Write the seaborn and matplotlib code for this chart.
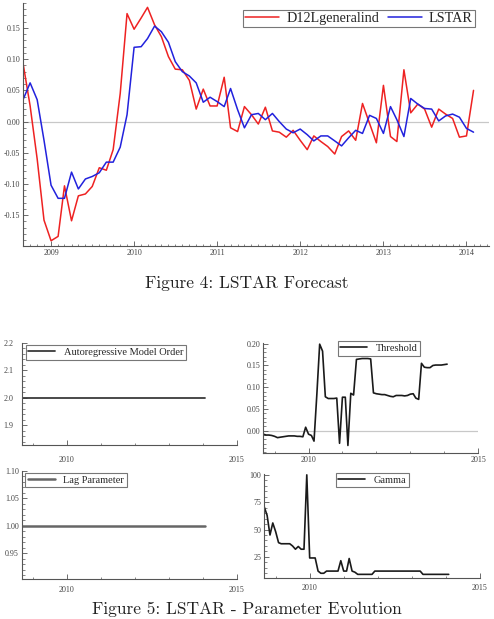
import numpy as np
import pandas as pd
import matplotlib
matplotlib.use("Agg")
import matplotlib.pyplot as plt
import matplotlib.dates as mdates
from matplotlib.ticker import MultipleLocator, FixedLocator
import seaborn as sns

sns.set_theme(style="ticks")
plt.rcParams["font.family"] = ["Liberation Serif", "DejaVu Serif"]
plt.rcParams["axes.unicode_minus"] = False

# ---------------- data ----------------
months = pd.date_range("2008-09-01", periods=66, freq="MS")

actual = [0.091, 0.025, -0.060, -0.158, -0.191, -0.184, -0.103, -0.159, -0.119, -0.116,
          -0.104, -0.074, -0.078, -0.045, 0.045, 0.173, 0.148, 0.166, 0.183, 0.155,
          0.136, 0.104, 0.084, 0.083, 0.066, 0.020, 0.052, 0.025, 0.025, 0.071,
          -0.010, -0.016, 0.024, 0.011, -0.004, 0.023, -0.015, -0.017, -0.025, -0.014,
          -0.030, -0.045, -0.023, -0.032, -0.040, -0.052, -0.024, -0.015, -0.030, 0.029,
          -0.003, -0.034, 0.058, -0.024, -0.032, 0.083, 0.014, 0.028, 0.020, -0.009,
          0.020, 0.012, 0.005, -0.025, -0.023, 0.050]

lstar = [0.036, 0.062, 0.035, -0.030, -0.102, -0.123, -0.123, -0.081, -0.108, -0.092,
         -0.088, -0.082, -0.065, -0.065, -0.041, 0.011, 0.119, 0.120, 0.133, 0.153,
         0.144, 0.127, 0.096, 0.080, 0.073, 0.062, 0.031, 0.039, 0.032, 0.024,
         0.053, 0.019, -0.010, 0.011, 0.013, 0.003, 0.013, 0.000, -0.012, -0.018,
         -0.012, -0.021, -0.031, -0.023, -0.023, -0.031, -0.039, -0.026, -0.014, -0.019,
         0.010, 0.005, -0.019, 0.024, 0.003, -0.024, 0.037, 0.028, 0.021, 0.020,
         0.001, 0.009, 0.012, 0.007, -0.011, -0.017]

ar_order = [2] * 66
lag_param = [1] * 66

threshold = [-0.008, -0.010, -0.010, -0.011, -0.013, -0.016, -0.015, -0.014, -0.013, -0.012,
             -0.012, -0.012, -0.013, -0.013, -0.014, 0.008, -0.008, -0.011, -0.024, 0.085,
             0.199, 0.183, 0.078, 0.074, 0.074, 0.074, 0.075, -0.029, 0.077, 0.077,
             -0.034, 0.086, 0.082, 0.164, 0.165, 0.166, 0.166, 0.166, 0.165, 0.087,
             0.085, 0.084, 0.083, 0.083, 0.081, 0.079, 0.078, 0.081, 0.081, 0.081,
             0.080, 0.081, 0.084, 0.085, 0.075, 0.072, 0.155, 0.146, 0.145, 0.145,
             0.150, 0.151, 0.151, 0.151, 0.152, 0.153]

gamma = [70.5, 63, 45, 56, 48, 38, 37, 37, 37, 37,
         35, 32, 34.5, 32, 32, 100, 24, 24, 24, 12,
         10, 10, 12, 12, 12, 12, 12, 21.5, 12, 12,
         23.5, 12, 11, 9, 9, 9, 9, 9, 9, 12,
         12, 12, 12, 12, 12, 12, 12, 12, 12, 12,
         12, 12, 12, 12, 12, 12, 9, 9, 9, 9,
         9, 9, 9, 9, 9, 9]

top_labels = ["D12Lgeneralind", "LSTAR"]

# ---------------- figure ----------------
W, H = 494, 619
fig = plt.figure(figsize=(W / 100, H / 100), dpi=100)


def box(l, t, r, b):
    return [l / W, 1 - b / H, (r - l) / W, (b - t) / H]


TICK_C = "#444444"
SPINE_C = "#555555"
FS = 5.8


def style(ax, xpad=2, ypad=2):
    sns.despine(ax=ax)
    for s in ("left", "bottom"):
        ax.spines[s].set_color(SPINE_C)
        ax.spines[s].set_linewidth(0.8)
    ax.tick_params(which="major", direction="in", length=3.5, width=0.6,
                   colors=SPINE_C, labelcolor=TICK_C, labelsize=FS)
    ax.tick_params(which="minor", direction="in", length=1.8, width=0.5, colors=SPINE_C)
    ax.tick_params(axis="x", pad=xpad)
    ax.tick_params(axis="y", pad=ypad)
    ax.set_xlabel("")
    ax.set_ylabel("")
    ax.set_facecolor("white")


def leg(ax, x, y, fs):
    lg = ax.legend(loc="upper left", bbox_to_anchor=(x / W, 1 - y / H),
                   bbox_transform=fig.transFigure, fontsize=fs, frameon=True,
                   fancybox=False, framealpha=1, edgecolor="#777777",
                   borderaxespad=0, handlelength=2.6, borderpad=0.25,
                   handletextpad=0.8)
    lg.get_frame().set_linewidth(0.8)
    return lg


# ---- Figure 4: forecast ----
df_top = pd.DataFrame({
    "date": list(months) * 2,
    "value": actual + lstar,
    "series": [top_labels[0]] * 66 + [top_labels[1]] * 66,
})
ax0 = fig.add_axes(box(23.3, 3, 489, 246))
ax0.axhline(0, color="#c8c8c8", lw=0.9, zorder=0)
sns.lineplot(data=df_top, x="date", y="value", hue="series",
             palette=["#ee2222", "#2222dd"], linewidth=1.1, ax=ax0)
ax0.set_xlim(pd.Timestamp("2008-09-01"), pd.Timestamp("2014-04-10"))
ax0.set_ylim(-0.1994, 0.190)
ax0.xaxis.set_major_locator(mdates.YearLocator())
ax0.xaxis.set_major_formatter(mdates.DateFormatter("%Y"))
ax0.xaxis.set_minor_locator(mdates.MonthLocator())
ax0.yaxis.set_major_locator(FixedLocator([-0.15, -0.10, -0.05, 0.0, 0.05, 0.10, 0.15]))
ax0.yaxis.set_major_formatter(matplotlib.ticker.FormatStrFormatter("%.2f"))
ax0.yaxis.set_minor_locator(MultipleLocator(0.01))
style(ax0, xpad=2.5, ypad=2)
lg0 = ax0.legend(loc="upper right", bbox_to_anchor=(475 / W, 1 - 10 / H),
                 bbox_transform=fig.transFigure, ncol=2, fontsize=10.2, frameon=True,
                 fancybox=False, framealpha=1, edgecolor="#777777", borderaxespad=0,
                 handlelength=2.4, borderpad=0.15, handletextpad=0.5, columnspacing=0.6)
lg0.get_frame().set_linewidth(0.8)

fig.text(247 / W, 1 - 283 / H, "Figure 4: LSTAR Forecast", ha="center", va="center",
         fontsize=12.5, family=["cmr10", "DejaVu Serif"], color="#222222")

# ---- Figure 5: parameter evolution ----
x_lo, x_hi = pd.Timestamp("2008-09-01"), pd.Timestamp("2015-01-03")


def year_axis(ax):
    ax.set_xlim(x_lo, x_hi)
    ax.xaxis.set_major_locator(FixedLocator(mdates.date2num(
        [pd.Timestamp("2010-01-01"), pd.Timestamp("2015-01-01")])))
    ax.xaxis.set_major_formatter(mdates.DateFormatter("%Y"))
    ax.xaxis.set_minor_locator(mdates.YearLocator())


# AR order
ax1 = fig.add_axes(box(21.7, 343, 236.7, 445))
sns.lineplot(x=months, y=ar_order, color="#3a3a3a", linewidth=1.3, ax=ax1,
             label="Autoregressive Model Order")
year_axis(ax1)
ax1.set_ylim(1.828, 2.2)
ax1.yaxis.set_major_locator(FixedLocator([1.9, 2.0, 2.1, 2.2]))
ax1.yaxis.set_major_formatter(matplotlib.ticker.FormatStrFormatter("%.1f"))
ax1.yaxis.set_minor_locator(MultipleLocator(0.02))
style(ax1, xpad=8, ypad=6)
leg(ax1, 25.7, 345, 7.5)

# Threshold
ax2 = fig.add_axes(box(263.3, 343.3, 478.3, 453.3))
ax2.axhline(0, color="#c8c8c8", lw=0.9, zorder=0)
sns.lineplot(x=months, y=threshold, color="#1a1a1a", linewidth=1.2, ax=ax2,
             label="Threshold")
year_axis(ax2)
ax2.set_ylim(-0.052, 0.201)
ax2.yaxis.set_major_locator(FixedLocator([0.0, 0.05, 0.10, 0.15, 0.20]))
ax2.yaxis.set_major_formatter(matplotlib.ticker.FormatStrFormatter("%.2f"))
ax2.yaxis.set_minor_locator(MultipleLocator(0.01))
style(ax2, xpad=2, ypad=2)
leg(ax2, 337.7, 341, 7.5)

# Lag parameter
ax3 = fig.add_axes(box(21.7, 471, 236.7, 579.3))
sns.lineplot(x=months, y=lag_param, color="#666666", linewidth=1.8, ax=ax3,
             label="Lag Parameter")
year_axis(ax3)
ax3.set_ylim(0.9026, 1.10)
ax3.yaxis.set_major_locator(FixedLocator([0.95, 1.00, 1.05, 1.10]))
ax3.yaxis.set_major_formatter(matplotlib.ticker.FormatStrFormatter("%.2f"))
ax3.yaxis.set_minor_locator(MultipleLocator(0.01))
style(ax3, xpad=5, ypad=2)
leg(ax3, 25, 472.7, 7.5)

# Gamma
ax4 = fig.add_axes(box(264.3, 474.3, 480, 578.3))
sns.lineplot(x=months, y=gamma, color="#1a1a1a", linewidth=1.2, ax=ax4,
             label="Gamma")
year_axis(ax4)
ax4.set_ylim(5.4, 100.5)
ax4.yaxis.set_major_locator(FixedLocator([25, 50, 75, 100]))
ax4.yaxis.set_minor_locator(MultipleLocator(5))
style(ax4, xpad=4, ypad=2)
leg(ax4, 335.7, 472.7, 7.5)

fig.text(247 / W, 1 - 609 / H, "Figure 5: LSTAR - Parameter Evolution", ha="center",
         va="center", fontsize=12.5, family=["cmr10", "DejaVu Serif"], color="#222222")

fig.savefig("out.png", dpi=100, facecolor="white")
